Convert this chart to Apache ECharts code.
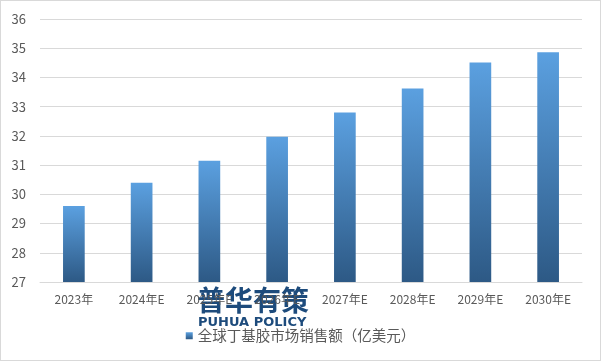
<!DOCTYPE html>
<html><head><meta charset="utf-8">
<script src="https://cdn.jsdelivr.net/npm/echarts@6/dist/echarts.min.js"></script>
<style>html,body{margin:0;padding:0;background:#fff}#c{width:601px;height:361px;box-sizing:border-box;border:1px solid #d9d9d9}</style>
</head><body><div id="c"></div>
<script>
const categories = ['2023年','2024年E','2025年E','2026年E','2027年E','2028年E','2029年E','2030年E'];
const values = [29.6, 30.4, 31.15, 31.97, 32.8, 33.62, 34.51, 34.86];
const seriesName = '全球丁基胶市场销售额（亿美元）';
const chart = echarts.init(document.getElementById('c'));
const font = '"Microsoft YaHei","Noto Sans CJK SC","DejaVu Sans",sans-serif';
chart.setOption({
  animation:false,
  textStyle:{fontFamily:font},
  grid:{left:39,right:18,top:18,bottom:78},
  legend:{bottom:12,left:'center',icon:'rect',itemWidth:7,itemHeight:7,itemGap:5,
    textStyle:{color:'#595959',fontSize:14.5,fontFamily:font},data:[seriesName]},
  xAxis:{type:'category',data:categories,
    axisLine:{lineStyle:{color:'#d9d9d9'}},axisTick:{show:false},
    axisLabel:{color:'#595959',fontSize:12,margin:11}},
  yAxis:{type:'value',min:27,max:36,interval:1,
    axisLine:{show:false},axisTick:{show:false},
    axisLabel:{color:'#595959',fontSize:13,margin:14},
    splitLine:{lineStyle:{color:'#d9d9d9'}}},
  series:[{name:seriesName,type:'bar',data:values,barWidth:'32%',
    itemStyle:{color:new echarts.graphic.LinearGradient(0,0,0,1,[{offset:0,color:'#5BA0E0'},{offset:1,color:'#2D5985'}])}}],
  graphic:[
    {type:'text',left:196,top:285,style:{text:'普华有策',font:'bold 28px '+font,fill:'#1d4b7c'}},
    {type:'text',left:197,top:315,style:{text:'PUHUA POLICY',font:'bold 13px "DejaVu Sans",sans-serif',fill:'#1d4b7c'}}
  ]
});
</script></body></html>
